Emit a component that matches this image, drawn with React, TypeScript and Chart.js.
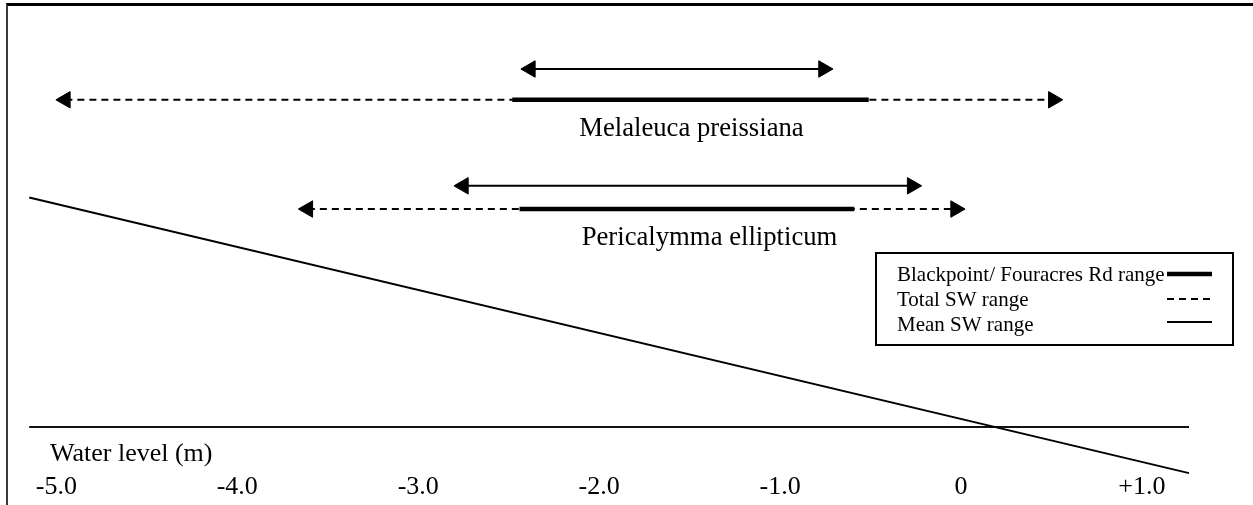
import React, { useEffect, useRef } from "react";
import { Chart, registerables } from "chart.js";

Chart.register(...registerables);

// ---- data (water level in metres) ----
const SPECIES = ["Melaleuca preissiana", "Pericalymma ellipticum"];
const TOTAL_SW_MIN = [-4.95, -3.61];
const TOTAL_SW_MAX = [0.51, -0.03];
const SITE_MIN = [-2.48, -2.44];
const SITE_MAX = [-0.51, -0.59];
const MEAN_SW_MIN = [-2.38, -2.75];
const MEAN_SW_MAX = [-0.76, -0.27];
const RANGE_LEVEL = [8.18, 5.45];
const MEAN_LEVEL = [8.95, 6.03];
const LABEL_X = [-1.49, -1.39];
const GRADIENT_X = [-5.15, 1.26];
const GRADIENT_Y = [5.74, -1.15];
const BASELINE_X = [-5.15, 1.26];
const BASELINE_Y = [0, 0];
const TICK_VALUES = [-5, -4, -3, -2, -1, 0, 1];
const TICK_LABELS = ["-5.0", "-4.0", "-3.0", "-2.0", "-1.0", "0", "+1.0"];
const LEGEND_LABELS = ["Blackpoint/ Fouracres Rd range", "Total SW range", "Mean SW range"];
const AXIS_TITLE = "Water level (m)";
const X_MIN = -5.035;
const X_MAX = 1.26;
const Y_MIN = 0;
const Y_MAX = 10;

// ---- styles ----
const FONT = "'Liberation Serif', 'Times New Roman', Times, serif";
const INK = "#000";
const SITE_STYLE = { width: 4.5, dash: [] as number[] };
const TOTAL_STYLE = { width: 2, dash: [7, 5] };
const MEAN_STYLE = { width: 2, dash: [] as number[] };
const ARROW_R = 9.5;

function rangeDataset(min: number, max: number, level: number, style: { width: number; dash: number[] }, arrows: boolean, order: number) {
  return {
    data: [
      { x: min, y: level },
      { x: max, y: level },
    ],
    borderColor: INK,
    backgroundColor: INK,
    borderWidth: style.width,
    borderDash: style.dash,
    borderCapStyle: "butt",
    pointStyle: "triangle",
    pointRadius: arrows ? ARROW_R : 0,
    pointHoverRadius: arrows ? ARROW_R : 0,
    pointRotation: [270, 90],
    pointBackgroundColor: INK,
    pointBorderColor: INK,
    pointBorderWidth: 1,
    tension: 0,
    order,
  };
}

const datasets: any[] = [];
SPECIES.forEach((_, i) => {
  datasets.push(rangeDataset(SITE_MIN[i], SITE_MAX[i], RANGE_LEVEL[i], SITE_STYLE, false, 0));
  datasets.push(rangeDataset(TOTAL_SW_MIN[i], TOTAL_SW_MAX[i], RANGE_LEVEL[i], TOTAL_STYLE, true, 2));
  datasets.push(rangeDataset(MEAN_SW_MIN[i], MEAN_SW_MAX[i], MEAN_LEVEL[i], MEAN_STYLE, true, 1));
});
datasets.push({
  data: GRADIENT_X.map((x, i) => ({ x, y: GRADIENT_Y[i] })),
  borderColor: INK,
  borderWidth: 2,
  pointRadius: 0,
  pointHoverRadius: 0,
  clip: false,
  tension: 0,
  order: 3,
});
datasets.push({
  data: BASELINE_X.map((x, i) => ({ x, y: BASELINE_Y[i] })),
  borderColor: "#111",
  borderWidth: 2,
  pointRadius: 0,
  pointHoverRadius: 0,
  clip: false,
  tension: 0,
  order: 4,
});

const annotationPlugin = {
  id: "annotations",
  afterDatasetsDraw(chart: any) {
    const { ctx } = chart;
    const xs = chart.scales.x;
    const ys = chart.scales.y;
    ctx.save();
    ctx.fillStyle = INK;
    ctx.textBaseline = "alphabetic";

    // species labels under their range lines
    ctx.font = `26.7px ${FONT}`;
    ctx.textAlign = "center";
    SPECIES.forEach((name, i) => {
      ctx.fillText(name, xs.getPixelForValue(LABEL_X[i]), ys.getPixelForValue(RANGE_LEVEL[i]) + 36);
    });

    // legend box
    const bx = 876;
    const by = 253;
    const bw = 357;
    const bh = 92;
    ctx.textAlign = "left";
    ctx.lineWidth = 2;
    ctx.strokeStyle = INK;
    ctx.setLineDash([]);
    ctx.strokeRect(bx, by, bw, bh);
    ctx.font = `21px ${FONT}`;
    const styles = [SITE_STYLE, TOTAL_STYLE, MEAN_STYLE];
    LEGEND_LABELS.forEach((label, i) => {
      const base = by + 28 + i * 25;
      const ly = base - 7 - (i === 2 ? 2 : 0);
      ctx.fillText(label, bx + 21, base);
      ctx.beginPath();
      ctx.lineWidth = styles[i].width;
      ctx.setLineDash(styles[i].dash);
      ctx.moveTo(bx + 291, ly);
      ctx.lineTo(bx + 336, ly);
      ctx.stroke();
    });
    ctx.restore();
  },
};

export default function App() {
  const ref = useRef<HTMLCanvasElement>(null);

  useEffect(() => {
    if (!ref.current) return;
    const chart = new Chart(ref.current, {
      type: "line",
      data: { datasets },
      options: {
        responsive: false,
        animation: false,
        events: [],
        layout: { padding: { top: 27, left: 50, right: 64, bottom: 0 } },
        plugins: {
          legend: { display: false },
          tooltip: { enabled: false },
        },
        scales: {
          x: {
            type: "linear",
            position: "bottom",
            weight: 0,
            min: X_MIN,
            max: X_MAX,
            grid: { display: false, drawTicks: false },
            border: { display: false },
            ticks: { display: false },
            title: {
              display: true,
              text: AXIS_TITLE,
              align: "start",
              color: INK,
              font: { family: FONT, size: 26 },
              padding: { top: 11.5, bottom: 0 },
            },
          },
          xTicks: {
            type: "linear",
            position: "bottom",
            weight: 1,
            min: X_MIN,
            max: X_MAX,
            grid: { display: false, drawTicks: false },
            border: { display: false },
            afterBuildTicks: (axis: any) => {
              axis.ticks = TICK_VALUES.map((value) => ({ value }));
            },
            ticks: {
              autoSkip: false,
              maxRotation: 0,
              padding: 2,
              color: INK,
              font: { family: FONT, size: 26 },
              callback: (_v: any, index: number) => TICK_LABELS[index],
            },
          },
          y: {
            type: "linear",
            display: false,
            min: Y_MIN,
            max: Y_MAX,
          },
        },
      } as any,
      plugins: [annotationPlugin],
    });
    return () => chart.destroy();
  }, []);

  return (
    <div style={{ position: "absolute", left: 0, top: 0, width: 1253, height: 505, background: "#fff", overflow: "hidden" }}>
      <canvas ref={ref} width={1253} height={505} style={{ position: "absolute", left: 0, top: 0, width: 1253, height: 505 }} />
      <div
        style={{
          position: "absolute",
          left: 6,
          top: 3,
          right: 0,
          bottom: 0,
          borderTop: "3px solid #000",
          borderLeft: "2px solid #3a3a3a",
          pointerEvents: "none",
        }}
      />
    </div>
  );
}
